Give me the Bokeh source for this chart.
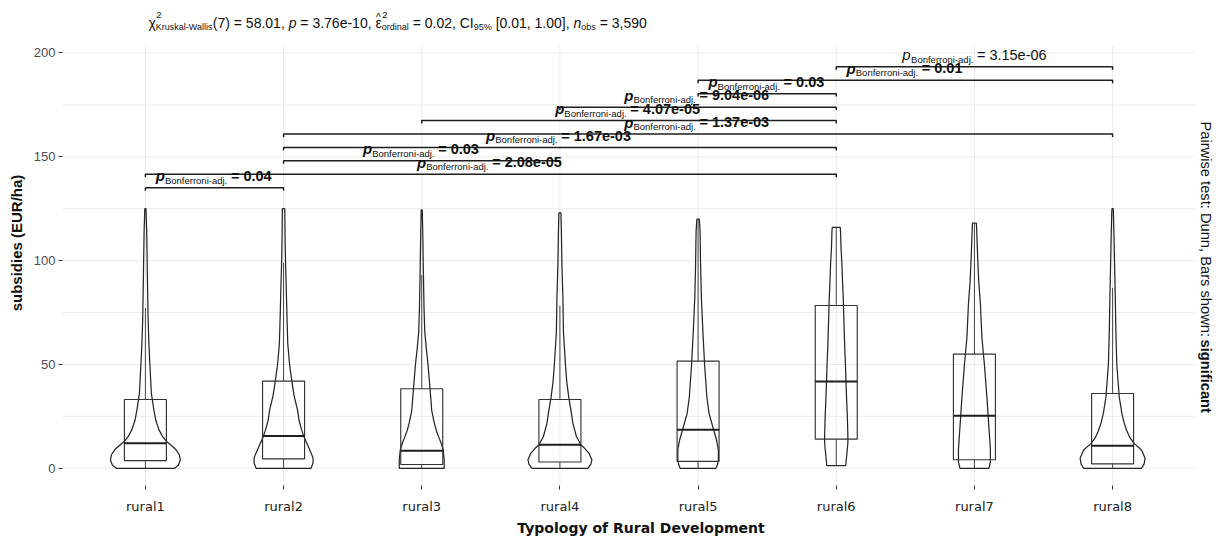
import math
from bokeh.plotting import figure
from bokeh.models import FixedTicker
from bokeh.embed import file_html
from bokeh.resources import INLINE
from bokeh.core.properties import value

# ---------------------------------------------------------------- data
groups = ["rural1", "rural2", "rural3", "rural4", "rural5", "rural6", "rural7", "rural8"]

# box-plot summaries of subsidies (EUR/ha)
q1 = [3.7, 4.5, 1.8, 3.0, 3.3, 14.0, 4.1, 2.1]
median = [12.0, 15.5, 8.4, 11.3, 18.5, 41.8, 25.3, 10.8]
q3 = [33.1, 42.0, 38.3, 33.1, 51.6, 78.4, 55.0, 36.0]
whisker_lo = [0.0, 0.0, 0.0, 0.0, 0.0, 1.3, 0.0, 0.0]
whisker_hi = [77.2, 98.9, 93.0, 78.3, 120.0, 116.0, 118.0, 86.9]

# kernel density profiles: (subsidy level, relative density)
violin_rural1 = [(0, 29), (1.5, 33), (4, 35), (6.5, 34), (9, 30.5), (11, 26), (13, 21), (15.5, 17),
                 (18.6, 13.5), (23, 10.5), (28, 8.5), (36, 6), (50, 4.5), (60, 3.5), (72, 2.7),
                 (92, 2), (114, 1.3), (125, 0.6)]
violin_rural2 = [(0, 27.5), (2.5, 29.5), (5, 29.5), (8, 27), (12.3, 23), (15, 20.5), (18.6, 18),
                 (23, 15.5), (28, 14), (35, 10.5), (42, 8.3), (50, 6), (60, 4.2), (75, 3.3),
                 (90, 2.5), (98, 2), (108, 1.6), (125, 1.2)]
violin_rural3 = [(0, 22.5), (4, 22.5), (8.8, 21.5), (12, 19.5), (15, 17), (18.3, 14.5), (22, 12.5),
                 (27.8, 10), (34, 9), (40, 8), (50, 6.3), (58, 4.5), (66, 3), (77, 2.3), (98, 1.5),
                 (114, 1), (124.4, 0.5)]
violin_rural4 = [(0, 28), (2, 31), (4.1, 32), (7.3, 29), (9.5, 25), (11.3, 21), (15.3, 16.5),
                 (21.7, 13), (28, 11), (34.4, 8.8), (42, 6.8), (50.3, 5.5), (66, 3.5), (82, 3),
                 (98, 2), (114, 1.5), (123, 1)]
violin_rural5 = [(0, 18), (2, 19.5), (4.1, 20.3), (8.8, 20.3), (13.6, 18.5), (18.3, 15.7),
                 (26.3, 11), (34.2, 8.8), (50, 6.5), (66, 4.8), (82, 3.3), (98, 2.5), (114, 2),
                 (120, 1.2)]
violin_rural6 = [(1.3, 9.5), (4, 10), (8.8, 11), (12.8, 11.7), (18.3, 11.5), (26.3, 11),
                 (34.2, 10.3), (42, 9.7), (50, 9.2), (58, 8.5), (66, 8), (82, 7), (90, 6.3),
                 (98, 5.7), (106, 4.8), (114, 4.3), (116, 4)]
violin_rural7 = [(0, 14.5), (3, 16), (9, 16), (18.3, 14.7), (34.2, 12.5), (50, 10), (63, 7.5),
                 (79, 6), (90, 4.3), (101, 3.3), (114, 2.3), (118, 2)]
violin_rural8 = [(0, 29), (2, 31.5), (4.8, 32.5), (8.8, 29), (12, 21.5), (15, 17), (18.3, 14),
                 (22, 11.5), (26.3, 9.3), (34.2, 6.7), (50, 4.2), (66, 3.3), (82, 2.7), (98, 2),
                 (114, 1.3), (125, 0.7)]
violins = [violin_rural1, violin_rural2, violin_rural3, violin_rural4,
           violin_rural5, violin_rural6, violin_rural7, violin_rural8]

# significant Dunn pairwise comparisons (Bonferroni-adjusted)
pair_from = ["rural1", "rural1", "rural2", "rural2", "rural2", "rural3", "rural4", "rural5", "rural5", "rural6"]
pair_to = ["rural2", "rural6", "rural4", "rural6", "rural8", "rural6", "rural6", "rural6", "rural8", "rural8"]
p_adj = ["0.04", "2.08e-05", "0.03", "1.67e-03", "1.37e-03", "4.07e-05", "9.04e-06", "0.03", "0.01", "3.15e-06"]

y_major = [0, 50, 100, 150, 200]
y_minor = [25, 75, 125, 175]

# ---------------------------------------------------------------- layout
W, H = 1219, 538
FRAME_L, FRAME_B = 62, 489            # drawing area spans the canvas right of / above the axes
PANEL_R, PANEL_T = 1195, 46           # data panel inside the drawing area
PANEL_X = (0.4, 8.6)
PANEL_Y = (-8.3, 203.3)
X_PPU = (PANEL_R - FRAME_L) / (PANEL_X[1] - PANEL_X[0])
Y_PPU = (FRAME_B - PANEL_T) / (PANEL_Y[1] - PANEL_Y[0])
X_RANGE = (PANEL_X[0], PANEL_X[0] + (W - FRAME_L) / X_PPU)
Y_RANGE = (PANEL_Y[0], PANEL_Y[0] + FRAME_B / Y_PPU)

BOX_HALF = 0.152
VIOLIN_HALF_MAX = 0.253
BRACKET_START = 135.1
BRACKET_STEP = 6.47
BRACKET_TIP = 1.4
GRID = "#ebebeb"
SANS = "Liberation Sans"


def data_x(px):
    return X_RANGE[0] + (px - FRAME_L) / X_PPU


def data_y(py):
    return Y_RANGE[0] + (FRAME_B - py) / Y_PPU


# approximate Arial / Liberation Sans advance widths (em)
ARIAL = {' ': .278, '!': .278, '(': .333, ')': .333, ',': .278, '-': .333, '.': .278, '/': .278,
         ':': .278, '=': .584, '[': .278, ']': .278, '%': .889, '^': .469, 'χ': .52, 'ε': .45}
for ch in "0123456789":
    ARIAL[ch] = .556
ARIAL.update(dict(zip("ABCDEFGHIJKLMNOPQRSTUVWXYZ",
                      [.667, .667, .722, .722, .667, .611, .778, .722, .278, .5, .667, .556, .833,
                       .722, .778, .667, .778, .722, .667, .611, .722, .667, .944, .667, .667, .611])))
ARIAL.update(dict(zip("abcdefghijklmnopqrstuvwxyz",
                      [.556, .556, .5, .556, .556, .278, .556, .556, .222, .222, .5, .222, .833,
                       .556, .556, .556, .556, .333, .5, .278, .556, .5, .722, .5, .5, .5])))


def text_width(s, size, style="normal"):
    w = sum(ARIAL.get(c, .556) for c in s) * size
    return w * (1.04 if "bold" in style else 1.0)


def run_pieces(pieces):
    """pieces: (text, size, style, rise_px, advances, nudge_px) -> placed pieces and total width.
    Leading blanks are turned into an explicit shift, since SVG text drops them."""
    cursor = 0.0
    placed = []
    for text, size, style, rise, adv, nudge in pieces:
        body = text.lstrip(" ")
        lead = text_width(text[:len(text) - len(body)], size, style)
        placed.append((body.rstrip(" "), size, style, rise, cursor + lead + nudge))
        if adv:
            cursor += text_width(text, size, style)
    return placed, cursor


text_runs = {}


def add_run(x, y, text, size, style, x_off=0.0, angle=0.0, baseline="alphabetic", color="#111111"):
    key = (size, style, angle, baseline, color)
    d = text_runs.setdefault(key, {"x": [], "y": [], "text": [], "xo": []})
    d["x"].append(x)
    d["y"].append(y)
    d["text"].append(text)
    d["xo"].append(x_off)


# ---------------------------------------------------------------- figure
p = figure(width=W, height=H, x_range=X_RANGE, y_range=Y_RANGE, title=None,
           output_backend="svg", toolbar_location=None,
           min_border_left=FRAME_L, min_border_right=0,
           min_border_top=0, min_border_bottom=H - FRAME_B)
p.outline_line_color = None
p.background_fill_color = "white"
p.border_fill_color = "white"
p.xgrid.visible = False
p.ygrid.visible = False

centers = list(range(1, len(groups) + 1))
pos = {g: c for g, c in zip(groups, centers)}

p.xaxis.ticker = FixedTicker(ticks=centers)
p.xaxis.major_label_overrides = {c: g for c, g in zip(centers, groups)}
p.yaxis.ticker = FixedTicker(ticks=y_major)

for ax in (p.xaxis[0], p.yaxis[0]):
    ax.axis_line_color = None
    ax.major_tick_in = 0
    ax.major_tick_out = 4
    ax.major_tick_line_color = "#333333"
    ax.minor_tick_line_color = None
    ax.axis_label_text_font_style = "bold"
    ax.axis_label_text_color = "#111111"

p.xaxis.axis_label = "Typology of Rural Development"
p.xaxis.axis_label_text_font = "DejaVu Sans"
p.xaxis.axis_label_text_font_size = "14px"
p.xaxis.axis_label_standoff = 3
p.xaxis.major_label_text_font = "DejaVu Sans"
p.xaxis.major_label_text_font_size = "13px"
p.xaxis.major_label_text_color = "#222222"
p.xaxis.major_label_standoff = 9

p.yaxis.axis_label = "subsidies (EUR/ha)"
p.yaxis.axis_label_text_font = SANS
p.yaxis.axis_label_text_font_size = "15px"
p.yaxis.axis_label_standoff = 6
p.yaxis.major_label_text_font = SANS
p.yaxis.major_label_text_font_size = "13px"
p.yaxis.major_label_text_color = "#4d4d4d"
p.yaxis.major_label_standoff = 3

# panel grid
hy = y_major + y_minor
p.segment(x0=[PANEL_X[0]] * len(hy), x1=[PANEL_X[1]] * len(hy), y0=hy, y1=hy,
          line_color=GRID, line_width=1)
p.segment(x0=centers, x1=centers, y0=[PANEL_Y[0]] * len(centers), y1=[PANEL_Y[1]] * len(centers),
          line_color=GRID, line_width=1)

# violins
dmax = max(d for prof in violins for _, d in prof)
vx, vy = [], []
for c, prof in zip(centers, violins):
    right = [c + d / dmax * VIOLIN_HALF_MAX for _, d in prof]
    left = [c - d / dmax * VIOLIN_HALF_MAX for _, d in reversed(prof)]
    vx.append(right + left)
    vy.append([lv for lv, _ in prof] + [lv for lv, _ in reversed(prof)])
p.patches(vx, vy, fill_color=None, line_color="#262626", line_width=1.25)

# boxes, whiskers, medians
p.quad(left=[c - BOX_HALF for c in centers], right=[c + BOX_HALF for c in centers],
       bottom=q1, top=q3, fill_color=None, line_color="#333333", line_width=1.15)
p.segment(x0=centers, x1=centers, y0=q3, y1=whisker_hi, line_color="#444444", line_width=1)
p.segment(x0=centers, x1=centers, y0=q1, y1=whisker_lo, line_color="#444444", line_width=1)
p.segment(x0=[c - BOX_HALF for c in centers], x1=[c + BOX_HALF for c in centers],
          y0=median, y1=median, line_color="#1e1e1e", line_width=2)

# significance brackets
bx, by = [], []
bracket_y = []
for k, (a, b) in enumerate(zip(pair_from, pair_to)):
    yk = BRACKET_START + k * BRACKET_STEP
    bracket_y.append(yk)
    bx.append([pos[a], pos[a], pos[b], pos[b]])
    by.append([yk - BRACKET_TIP, yk, yk, yk - BRACKET_TIP])
p.multi_line(bx, by, line_color="#1e1e1e", line_width=1.5)

# p-value labels above each bracket
for k, (a, b) in enumerate(zip(pair_from, pair_to)):
    heavy = k < len(p_adj) - 1
    pieces = [("p", 15, "bold italic" if heavy else "italic", 12, True, 0),
              ("Bonferroni-adj.", 9.5, "normal", 7.5, True, 0.5),
              (" = " + p_adj[k], 14.5, "bold" if heavy else "normal", 12, True, 0)]
    placed, total = run_pieces(pieces)
    mid = (pos[a] + pos[b]) / 2
    for text, size, style, rise, off in placed:
        add_run(mid, bracket_y[k] + rise / Y_PPU, text, size, style, x_off=off - total / 2)

# statistical subtitle
sub_pieces = [
    ("χ", 14, "normal", 0, True, 0),
    ("2", 9.5, "normal", 8, False, 0.5),
    ("Kruskal-Wallis", 9, "normal", -4, True, 0),
    ("(7) = 58.01, ", 14, "normal", 0, True, 0),
    ("p", 14, "italic", 0, True, 0),
    (" = 3.76e-10, ", 14, "normal", 0, True, 0),
    ("^", 10, "normal", 6, False, 0.5),
    ("ε", 14, "normal", 0, True, 0),
    ("2", 9.5, "normal", 8, False, 0.5),
    ("ordinal", 9, "normal", -4, True, 0),
    (" = 0.02, CI", 14, "normal", 0, True, 0),
    ("95%", 9, "normal", -4, True, 0),
    (" [0.01, 1.00], ", 14, "normal", 0, True, 0),
    ("n", 14, "italic", 0, True, 0),
    ("obs", 9, "normal", -4, True, 0),
    (" = 3,590", 14, "normal", 0, True, 0),
]
SUB_LEFT, SUB_BASE = 148, 23
placed, _ = run_pieces(sub_pieces)
for text, size, style, rise, off in placed:
    add_run(data_x(SUB_LEFT), data_y(SUB_BASE - rise), text, size, style, x_off=off)

# pairwise-test caption on the right, reading top to bottom
cap_pieces = [("Pairwise test: Dunn, Bars shown: ", 14.7, "normal", 0, True, 0),
              ("significant", 14.7, "bold", 0, True, 0)]
CAP_X, CAP_TOP = 1205, 122
placed, _ = run_pieces(cap_pieces)
for text, size, style, rise, off in placed:
    add_run(data_x(CAP_X), data_y(CAP_TOP + off), text, size, style,
            angle=-math.pi / 2, baseline="middle")

for (size, style, angle, baseline, color), d in text_runs.items():
    p.text(x=d["x"], y=d["y"], text=d["text"], x_offset=d["xo"], angle=angle,
           text_font=value(SANS), text_font_size=value(f"{size}px"),
           text_font_style=value(style), text_color=color,
           text_align="left", text_baseline=baseline)

open("out.html", "w").write(file_html(p, INLINE))
